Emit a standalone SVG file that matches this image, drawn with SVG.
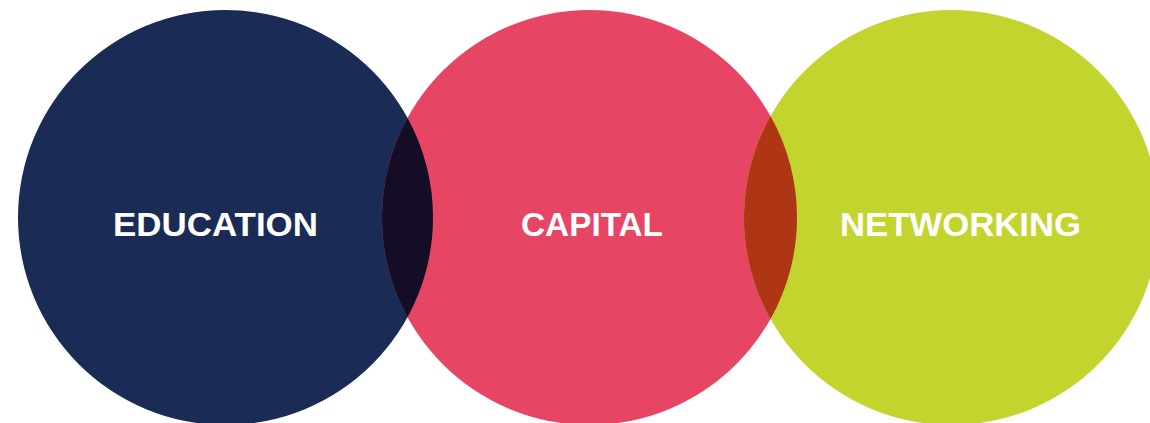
<svg xmlns="http://www.w3.org/2000/svg" width="1150" height="423" viewBox="0 0 1150 423">
<style>
.lbl{font-family:"Liberation Sans",Arial,sans-serif;font-weight:bold;font-size:34px;fill:#ffffff;text-anchor:middle}
</style>
<rect width="1150" height="423" fill="#ffffff"/>
<g id="education">
<circle cx="225.5" cy="217.5" r="207.5" fill="#1a2b56"/>
</g>
<g id="capital">
<circle cx="589.5" cy="217.5" r="207.5" fill="#e64663"/>
</g>
<g id="networking">
<circle cx="951.5" cy="217.5" r="207.5" fill="#c3d42f"/>
</g>
<g id="overlaps">
<path d="M407.5,117.8 A207.5,207.5 0 0 1 407.5,317.2 A207.5,207.5 0 0 1 407.5,117.8 Z" fill="#150d25"/>
<path d="M770.5,116 A207.5,207.5 0 0 1 770.5,319 A207.5,207.5 0 0 1 770.5,116 Z" fill="#ae3614"/>
</g>
<g id="labels">
<text class="lbl" x="215.5" y="235.5" textLength="205" lengthAdjust="spacingAndGlyphs">EDUCATION</text>
<text class="lbl" x="592" y="235.5" textLength="142" lengthAdjust="spacingAndGlyphs">CAPITAL</text>
<text class="lbl" x="960.5" y="235.5" textLength="241" lengthAdjust="spacingAndGlyphs">NETWORKING</text>
</g>
</svg>
